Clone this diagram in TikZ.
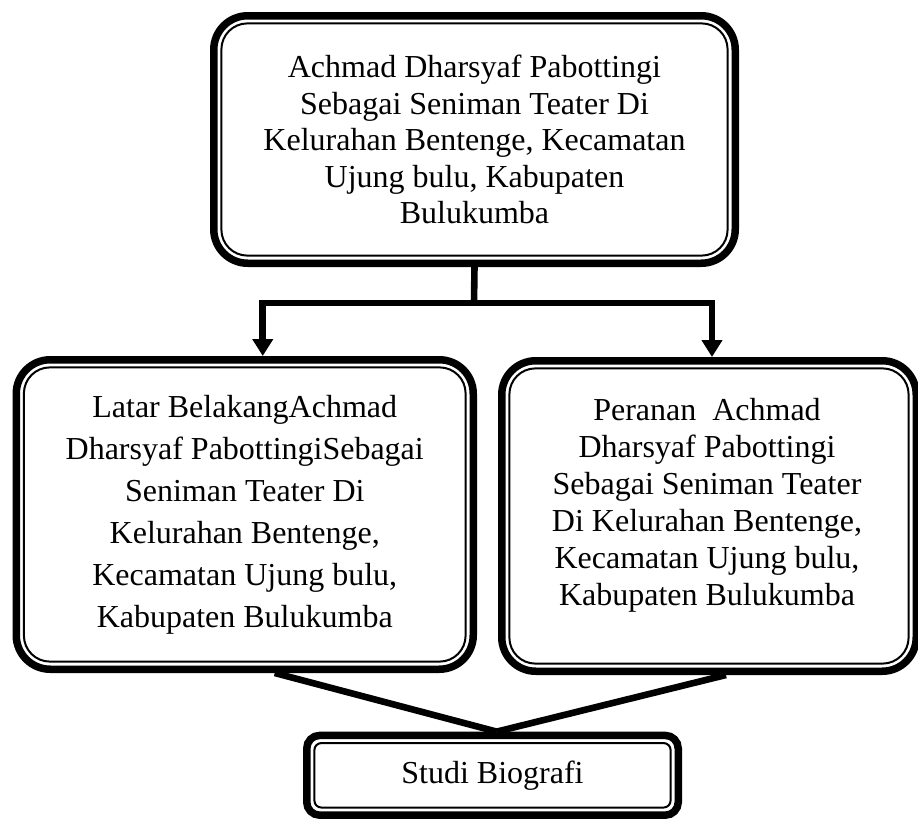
\documentclass[tikz,border=0pt]{standalone}
\usepackage{fontspec}
\setmainfont{Liberation Serif}
\usetikzlibrary{arrows.meta,calc}

\tikzset{
  box/.style={draw,line width=3.75pt,outer sep=1.875pt,rounded corners=17pt,align=center,
    font=\fontsize{16pt}{18.3pt}\selectfont},
  inner/.style={line width=1pt,rounded corners=#1},
  link/.style={line width=3.3pt},
  arrow/.style={link,-{Triangle[width=10pt,length=8.5pt]}}
}

\begin{document}
\begin{tikzpicture}[x=0.5pt,y=-0.5pt]
\useasboundingbox (0,0) rectangle (918,819);

\node[box,minimum width=260.75pt,minimum height=123.75pt] (top) at (474.5,139.5)
  {Achmad Dharsyaf Pabottingi\\Sebagai Seniman Teater Di\\Kelurahan Bentenge, Kecamatan\\Ujung bulu, Kabupaten\\Bulukumba};
\node[box,minimum width=228.5pt,minimum height=154.75pt,font=\fontsize{16pt}{21pt}\selectfont] (lbox) at (244.75,514.5)
  {Latar BelakangAchmad\\Dharsyaf PabottingiSebagai\\Seniman Teater Di\\Kelurahan Bentenge,\\Kecamatan Ujung bulu,\\Kabupaten Bulukumba};
\node[box,minimum width=207.25pt,minimum height=155.25pt] (rbox) at (709,516) {};
\node[align=center,font=\fontsize{16pt}{18.5pt}\selectfont] (rtext) at (707,505)
  {Peranan\ \ Achmad\\Dharsyaf Pabottingi\\Sebagai Seniman Teater\\Di Kelurahan Bentenge,\\Kecamatan Ujung bulu,\\Kabupaten Bulukumba};
\node[box,rounded corners=6.5pt,minimum width=185.75pt,minimum height=39.9pt] (bbox) at (492.5,775.3) {Studi Biografi};

% thin inner border
\foreach \b/\r in {top/13pt,lbox/13pt,rbox/13pt,bbox/3.5pt}
  \draw[inner=\r] ($(\b.south west)+(5.7pt,5.7pt)$) rectangle ($(\b.north east)-(5.7pt,5.7pt)$);

\coordinate (split) at (474,303);
\draw[link] (top.south) -- (split);
\draw[arrow] (split) -| ([xshift=9pt]lbox.north);
\draw[arrow] (split) -| ([xshift=1.5pt]rbox.north);

\coordinate (meet) at ([xshift=2.1pt]bbox.north);
\draw[link] ([xshift=15pt]lbox.south) -- (meet);
\draw[link] ([xshift=8.5pt]rbox.south) -- (meet);
\end{tikzpicture}
\end{document}
